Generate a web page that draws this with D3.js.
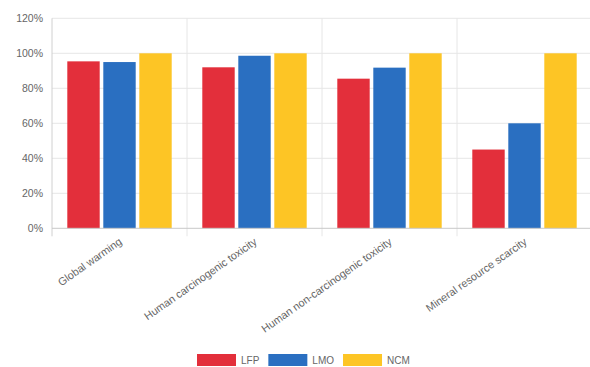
<!DOCTYPE html>
<html>
<head>
<meta charset="utf-8">
<script src="https://cdn.jsdelivr.net/npm/d3@7"></script>
<style>
  body { margin: 0; background: #fff; }
  svg { display: block; overflow: hidden; }
  text { font-family: "Liberation Sans", Arial, Helvetica, sans-serif; fill: #666; }
</style>
</head>
<body>
<div id="chart"></div>
<script>
var categories = ["Global warming", "Human carcinogenic toxicity", "Human non-carcinogenic toxicity", "Mineral resource scarcity"];
var seriesNames = ["LFP", "LMO", "NCM"];
var lfpValues = [95.4, 92, 85.5, 45];
var lmoValues = [95, 98.6, 91.8, 60];
var ncmValues = [100, 100, 100, 100];
var yTicks = [0, 20, 40, 60, 80, 100, 120];
var colors = ["#e32f3b", "#2a6fc1", "#fdc525"];

var margin = { top: 18.3, left: 52 },
    width = 540,
    height = 210;

var series = [lfpValues, lmoValues, ncmValues];

var svg = d3.select("#chart").append("svg")
    .attr("width", 590)
    .attr("height", 367);

var g = svg.append("g")
    .attr("transform", "translate(" + margin.left + "," + margin.top + ")");

var x0 = d3.scaleBand()
    .domain(categories)
    .range([0, width]);

var x1 = d3.scaleBand()
    .domain(seriesNames)
    .range([x0.bandwidth() * 0.1, x0.bandwidth() * 0.9])
    .paddingInner(0.1)
    .paddingOuter(0.05);

var y = d3.scaleLinear()
    .domain([0, 120])
    .range([height, 0]);

// horizontal grid
g.selectAll(".hgrid")
  .data(yTicks.filter(function (d) { return d > 0; }))
  .enter().append("line")
  .attr("x1", 0)
  .attr("x2", width)
  .attr("y1", function (d) { return y(d); })
  .attr("y2", function (d) { return y(d); })
  .attr("stroke", "#e6e6e6")
  .attr("stroke-width", 1);

// vertical grid + tick marks
var vlines = [];
for (var i = 1; i < categories.length; i++) vlines.push(x0(categories[i]));
vlines.push(width);
g.selectAll(".vgrid")
  .data(vlines)
  .enter().append("line")
  .attr("x1", function (d) { return d; })
  .attr("x2", function (d) { return d; })
  .attr("y1", 0)
  .attr("y2", height + 8)
  .attr("stroke", "#e6e6e6")
  .attr("stroke-width", 1);

// y axis labels
g.append("g")
  .attr("class", "y axis")
  .call(d3.axisLeft(y).tickValues(yTicks).tickSize(0).tickPadding(9)
    .tickFormat(function (d) { return d + "%"; }))
  .call(function (a) { a.select(".domain").remove(); })
  .selectAll("text")
  .style("font-size", "10.5px")
  .style("fill", "#666");

// bars
for (var s = 0; s < series.length; s++) {
  g.selectAll(".bar" + s)
    .data(series[s])
    .enter().append("rect")
    .attr("class", "bar" + s)
    .attr("x", function (d, i) { return x0(categories[i]) + x1(seriesNames[s]); })
    .attr("width", x1.bandwidth())
    .attr("y", function (d) { return y(d); })
    .attr("height", function (d) { return height - y(d); })
    .attr("fill", colors[s]);
}

// axis lines
g.append("line")
  .attr("x1", 0).attr("x2", 0)
  .attr("y1", 0).attr("y2", height + 8)
  .attr("stroke", "#d0d0d0");
g.append("line")
  .attr("x1", 0).attr("x2", width)
  .attr("y1", height).attr("y2", height)
  .attr("stroke", "#c8c8c8");

// x labels, rotated
g.selectAll(".xlabel")
  .data(categories)
  .enter().append("text")
  .attr("class", "xlabel")
  .attr("transform", function (d) {
    return "translate(" + (x0(d) + x0.bandwidth() / 2 + 1) + "," + (height + 12) + ") rotate(-35)";
  })
  .attr("dy", "0.35em")
  .style("text-anchor", "end")
  .style("font-size", "10.8px")
  .text(function (d) { return d; });

// legend
var legend = svg.append("g")
    .attr("transform", "translate(197,354)");
var lx = 0;
seriesNames.forEach(function (name, i) {
  legend.append("rect")
    .attr("x", lx).attr("y", 0)
    .attr("width", 39).attr("height", 12)
    .attr("fill", colors[i]);
  var t = legend.append("text")
    .attr("x", lx + 44).attr("y", 6)
    .attr("dy", "0.35em")
    .style("font-size", "10px")
    .text(name);
  lx += 44 + t.node().getComputedTextLength() + 9;
});
</script>
</body>
</html>
